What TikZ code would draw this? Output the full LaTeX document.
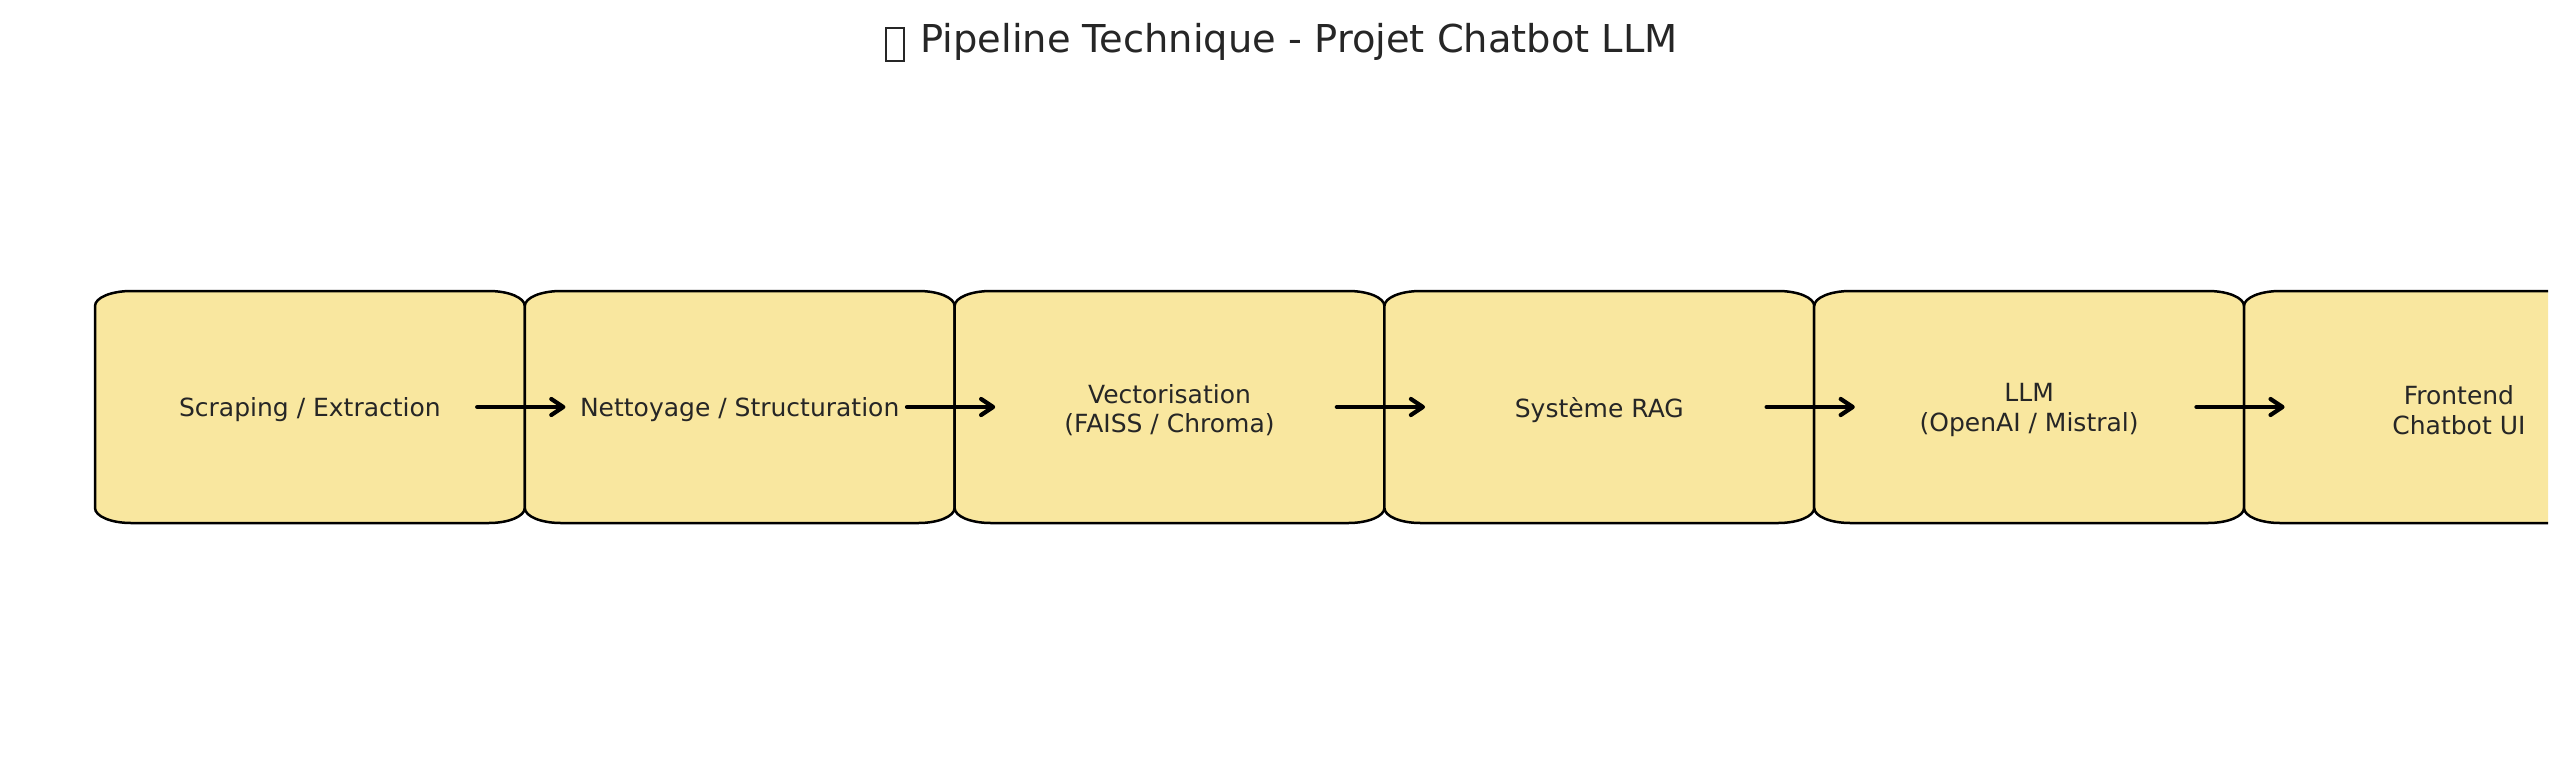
\documentclass[tikz,border=0pt]{standalone}
\usepackage{fontspec}
\setmainfont{DejaVu Sans}
\usetikzlibrary{arrows.meta,calc}
\definecolor{boxfill}{HTML}{F9E79F}
\definecolor{txt}{HTML}{262626}
\begin{document}
\begin{tikzpicture}[x=0.5pt,y=0.5pt,
  frame/.style={draw=black,line width=1.25pt,fill=boxfill,line join=round},
  lbl/.style={inner sep=0pt,minimum width=214.9pt,minimum height=116pt,align=center,text=txt,font=\fontsize{12.5}{14.75}\selectfont},
  arr/.style={line width=2.1pt,line cap=round,-{Straight Barb[length=6pt,width=8pt,line cap=round,line join=round]}},
  ttl/.style={text=txt,font=\fontsize{19.2}{23}\selectfont,inner sep=0pt},
  tofu/.style={draw=txt,line width=1pt,inner sep=0pt,minimum width=9pt,minimum height=16pt}]
\useasboundingbox (0,0) rectangle (2568,768);
\node[tofu] (glyph) at (894.5,723.5) {};
\node[ttl,anchor=base west] (title) at (920,716) {Pipeline Technique - Projet Chatbot LLM};
\begin{scope}
\clip (0,0) rectangle (2548,768);
\foreach \i in {0,...,5}{
  \pgfmathsetmacro\L{95+429.8*\i}
  \pgfmathsetmacro\R{\L+429.8}
  \draw[frame] (\L,260) -- (\L,462)
    arc[start angle=180,end angle=90,x radius=36,y radius=15]
    -- (\R-36,477)
    arc[start angle=90,end angle=0,x radius=36,y radius=15]
    -- (\R,260)
    arc[start angle=0,end angle=-90,x radius=36,y radius=15]
    -- (\L+36,245)
    arc[start angle=270,end angle=180,x radius=36,y radius=15]
    -- cycle;
}
\end{scope}
\node[lbl] (b1) at (309.9,358) {Scraping / Extraction};
\node[lbl] (b2) at (739.7,358) {Nettoyage / Structuration};
\node[lbl] (b3) at (1169.5,358) {Vectorisation\\(FAISS / Chroma)};
\node[lbl] (b4) at (1599.3,358) {Système RAG};
\node[lbl] (b5) at (2029.1,358) {LLM\\(OpenAI / Mistral)};
\node[lbl] (b6) at (2458.9,358) {Frontend\\Chatbot UI};
\foreach \a/\b in {b1/b2,b2/b3,b3/b4,b4/b5,b5/b6}{
  \draw[arr] ($(\a.east)+(-48,3)$) -- ($(\b.west)+(41,3)$);
}
\end{tikzpicture}
\end{document}
